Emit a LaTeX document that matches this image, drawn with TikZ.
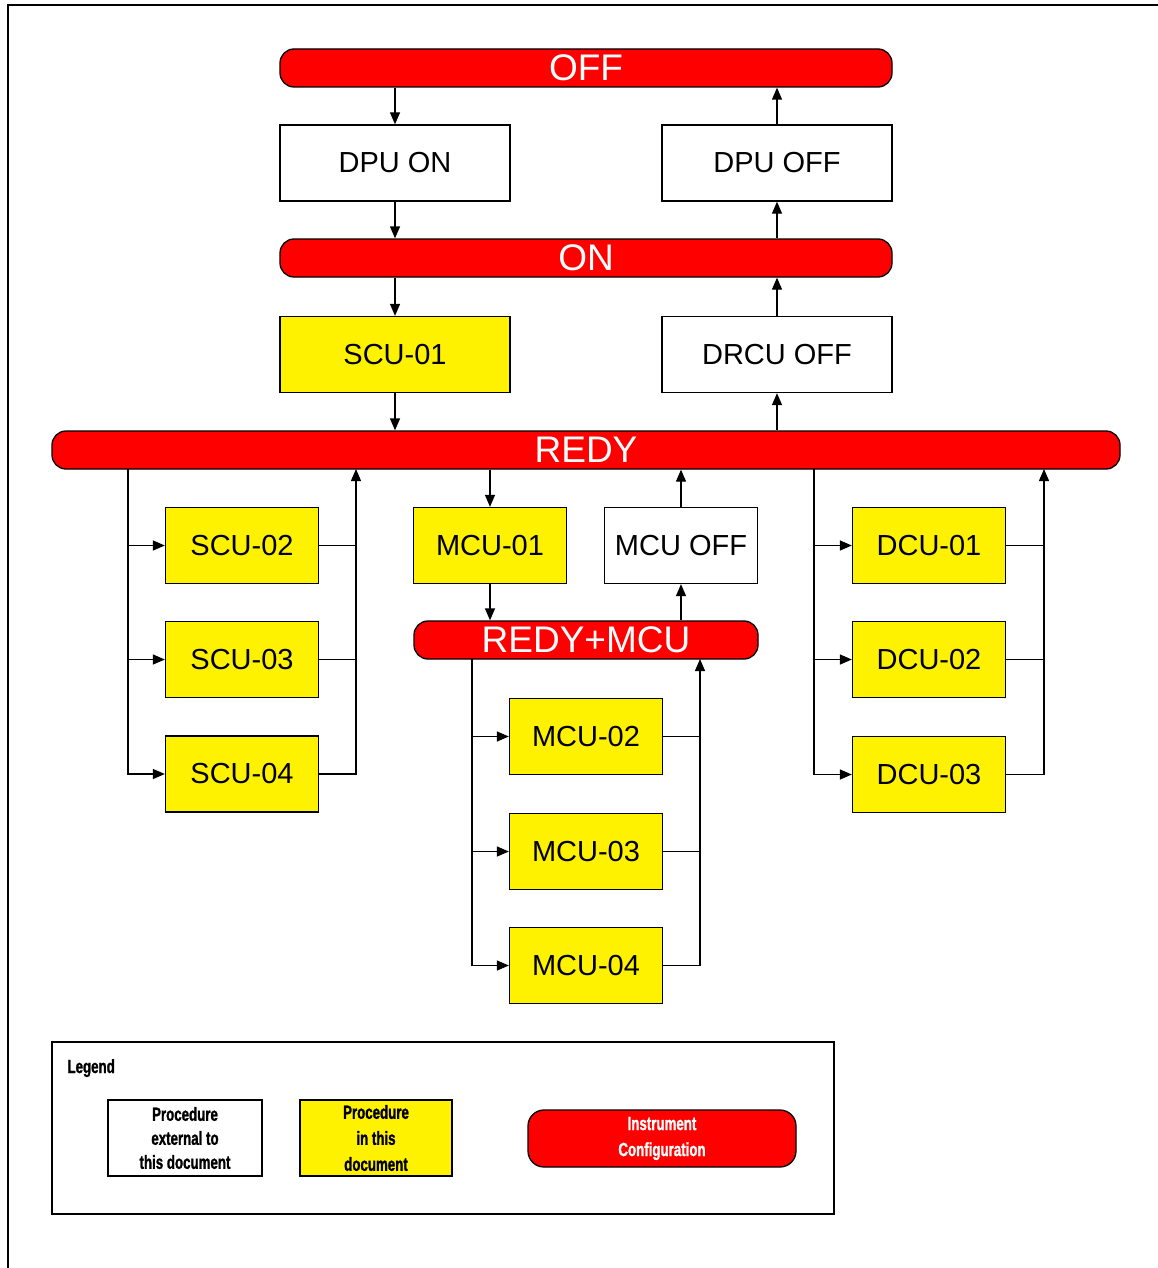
\documentclass[tikz,border=0pt]{standalone}
\usepackage{fontspec}
\setmainfont{Liberation Sans}
\newfontfamily\legendfont[FakeStretch=0.7, FakeBold=1.2]{Liberation Sans Bold}
\usetikzlibrary{arrows.meta}
\tikzset{
  proc/.style={draw, line width=1.3pt, fill=white, minimum width=230pt,
    minimum height=76pt, inner sep=0pt, font=\fontsize{29}{34}\selectfont},
  shortbox/.style={proc, minimum width=153pt},
  mine/.style={fill=yellow},
  config/.style={draw, line width=1.3pt, fill=red, rounded corners=14pt,
    minimum height=38pt, inner sep=0pt, text=white,
    font=\fontsize{37}{40}\selectfont},
  legtext/.style={font=\legendfont\fontsize{19}{24}\selectfont, align=center},
  arr/.style={-{Triangle[length=12pt,width=10pt]}, line width=1.3pt},
  wire/.style={line width=1.3pt},
}
\begin{document}
\begin{tikzpicture}[x=1pt, y=-1pt]
  \useasboundingbox (0,0) rectangle (1158,1268);
  \draw[line width=2pt] (8,1272) -- (8,5) -- (1162,5);

  % configurations
  \node[config, minimum width=612pt] (off) at (586,68) {OFF};
  \node[config, minimum width=612pt] (on) at (586,258) {ON};
  \node[config, minimum width=1068pt] (redy) at (586,450) {REDY};
  \node[config, minimum width=344pt] (redymcu) at (586,640) {REDY+MCU};

  % procedures
  \node[proc] (dpuon) at (395,163) {DPU ON};
  \node[proc] (dpuoff) at (777,163) {DPU OFF};
  \node[proc, mine] (scu1) at (395,354.5) {SCU-01};
  \node[proc] (drcuoff) at (777,354.5) {DRCU OFF};

  \node[shortbox, mine] (scu2) at (242,545.5) {SCU-02};
  \node[shortbox, mine] (scu3) at (242,659.5) {SCU-03};
  \node[shortbox, mine] (scu4) at (242,774) {SCU-04};

  \node[shortbox, mine] (mcu1) at (490,545.5) {MCU-01};
  \node[shortbox] (mcuoff) at (681,545.5) {MCU OFF};
  \node[shortbox, mine] (mcu2) at (586,736.5) {MCU-02};
  \node[shortbox, mine] (mcu3) at (586,851.5) {MCU-03};
  \node[shortbox, mine] (mcu4) at (586,965.5) {MCU-04};

  \node[shortbox, mine] (dcu1) at (929,545.5) {DCU-01};
  \node[shortbox, mine] (dcu2) at (929,659.5) {DCU-02};
  \node[shortbox, mine] (dcu3) at (929,774.5) {DCU-03};

  % main chain
  \draw[arr] (off.south -| dpuon.north) -- (dpuon.north);
  \draw[arr] (dpuon.south) -- (on.north -| dpuon.south);
  \draw[arr] (on.south -| scu1.north) -- (scu1.north);
  \draw[arr] (scu1.south) -- (redy.north -| scu1.south);
  \draw[arr] (redy.north -| drcuoff.south) -- (drcuoff.south);
  \draw[arr] (drcuoff.north) -- (on.south -| drcuoff.north);
  \draw[arr] (on.north -| dpuoff.south) -- (dpuoff.south);
  \draw[arr] (dpuoff.north) -- (off.south -| dpuoff.north);

  % SCU loop
  \coordinate (scuL) at (128,469);
  \coordinate (scuR) at (356,469);
  \draw[arr] (scuL) |- (scu4.west);
  \draw[arr] (scuL |- scu2.west) -- (scu2.west);
  \draw[arr] (scuL |- scu3.west) -- (scu3.west);
  \draw[arr] (scu4.east) -| (scuR);
  \draw[wire] (scu2.east) -- (scu2.east -| scuR);
  \draw[wire] (scu3.east) -- (scu3.east -| scuR);

  % MCU branch
  \draw[arr] (redy.south -| mcu1.north) -- (mcu1.north);
  \draw[arr] (mcu1.south) -- (redymcu.north -| mcu1.south);
  \draw[arr] (redymcu.north -| mcuoff.south) -- (mcuoff.south);
  \draw[arr] (mcuoff.north) -- (redy.south -| mcuoff.north);
  \coordinate (mcuL) at (472,659);
  \coordinate (mcuR) at (700,659);
  \draw[arr] (mcuL) |- (mcu4.west);
  \draw[arr] (mcuL |- mcu2.west) -- (mcu2.west);
  \draw[arr] (mcuL |- mcu3.west) -- (mcu3.west);
  \draw[arr] (mcu4.east) -| (mcuR);
  \draw[wire] (mcu2.east) -- (mcu2.east -| mcuR);
  \draw[wire] (mcu3.east) -- (mcu3.east -| mcuR);

  % DCU loop
  \coordinate (dcuL) at (814,469);
  \coordinate (dcuR) at (1044,469);
  \draw[arr] (dcuL) |- (dcu3.west);
  \draw[arr] (dcuL |- dcu1.west) -- (dcu1.west);
  \draw[arr] (dcuL |- dcu2.west) -- (dcu2.west);
  \draw[arr] (dcu3.east) -| (dcuR);
  \draw[wire] (dcu1.east) -- (dcu1.east -| dcuR);
  \draw[wire] (dcu2.east) -- (dcu2.east -| dcuR);

  % legend
  \draw[wire] (52,1042) rectangle (834,1214);
  \node[legtext, anchor=base west] (legtitle) at (64,1073) {Legend};
  \node[proc, minimum width=154pt, legtext] (legext) at (185,1138)
    {Procedure\\external to\\this document};
  \node[proc, mine, minimum width=152pt, legtext, font=\legendfont\fontsize{19}{26}\selectfont]
    (legin) at (376,1138) {Procedure\\in this\\document};
  \node[config, minimum width=268pt, minimum height=57pt, rounded corners=16pt,
    legtext, font=\legendfont\fontsize{19}{26}\selectfont]
    (legconf) at (662,1138.5) {Instrument\\Configuration};
\end{tikzpicture}
\end{document}
